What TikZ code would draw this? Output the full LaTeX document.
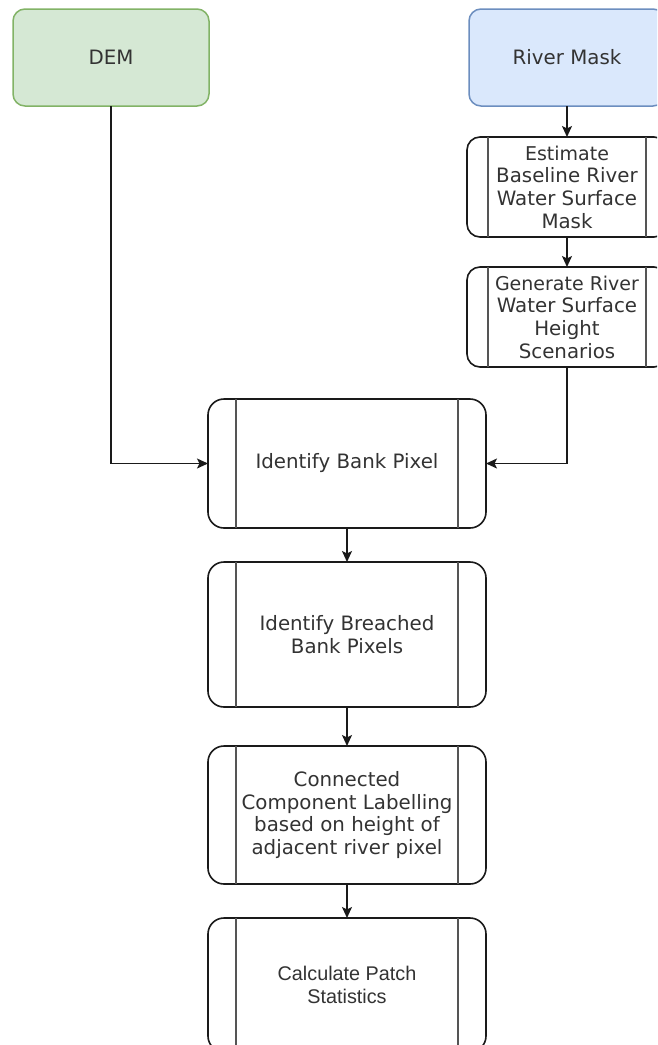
\documentclass[tikz,border=0pt]{standalone}
\usepackage{fontspec}
\setmainfont{DejaVu Sans}
\newfontfamily\arialf{Liberation Sans}
\usetikzlibrary{arrows.meta,calc}
\definecolor{demfill}{HTML}{D5E8D4}
\definecolor{demline}{HTML}{82B366}
\definecolor{rivfill}{HTML}{DAE8FC}
\definecolor{rivline}{HTML}{6C8EBF}
\definecolor{txt}{HTML}{333333}
\definecolor{outl}{HTML}{1A1A1A}
\definecolor{innl}{HTML}{555555}
\tikzset{
  txtfont/.style={font=\fontsize{19.8}{22.7}\selectfont, text=txt, align=center},
  inputbox/.style={txtfont, rounded corners=12pt, line width=1.5pt, minimum width=196pt, minimum height=97pt, inner sep=0pt, outer sep=0pt},
  procbox/.style={txtfont, draw=outl, fill=white, line width=1.6pt, inner sep=0pt, outer sep=0pt},
  bigproc/.style={procbox, rounded corners=16pt, minimum width=278pt},
  smallproc/.style={procbox, rounded corners=13pt, minimum width=200pt, minimum height=100pt},
  innerline/.style={draw=innl, line width=1.6pt},
  conn/.style={draw=outl, line width=1.6pt, -{Stealth[length=11pt,width=10pt,inset=2.5pt]}}
}
\begin{document}
\begin{tikzpicture}[x=1pt,y=-1pt]
\clip (0,0) rectangle (657,1045);
\fill[white] (0,0) rectangle (657,1045);
% input boxes
\node[inputbox, draw=demline, fill=demfill] (dem) at (111,57.5) {DEM};
\node[inputbox, draw=rivline, fill=rivfill] (river) at (567,57.5) {River Mask};
% right column processes
\node[smallproc] (est) at (567,187) {\fontsize{19}{22.5}\selectfont Estimate\\Baseline River\\Water Surface\\Mask};
\node[smallproc] (gen) at (567,317) {\fontsize{19}{22.5}\selectfont Generate River\\Water Surface\\Height\\Scenarios};
% main column
\node[bigproc, minimum height=129pt] (bank) at (347,463.5) {Identify Bank Pixel};
\node[bigproc, minimum height=145pt] (breach) at (347,634.5) {Identify Breached\\Bank Pixels};
\node[bigproc, minimum height=138pt] (ccl) at (347,815) {\raisebox{2pt}{\parbox{240pt}{\centering Connected\\Component Labelling\\based on height of\\adjacent river pixel}}};
\node[bigproc, minimum height=134pt] (calc) at (347,985) {\arialf Calculate Patch\\\arialf Statistics};
% inner lines
\foreach \n/\d in {est/21,gen/21,bank/28,breach/28,ccl/28,calc/28}{
  \draw[innerline] ([xshift=\d pt]\n.north west) -- ([xshift=\d pt]\n.south west);
  \draw[innerline] ([xshift=-\d pt]\n.north east) -- ([xshift=-\d pt]\n.south east);
}
% connectors
\coordinate (demturn) at (dem.south |- bank.west);
\coordinate (genturn) at (gen.south |- bank.east);
\draw[conn] (river.south) -- (est.north);
\draw[conn] (est.south) -- (gen.north);
\draw[conn] (dem.south) -- (demturn) -- (bank.west);
\draw[conn] (gen.south) -- (genturn) -- (bank.east);
\draw[conn] (bank.south) -- (breach.north);
\draw[conn] (breach.south) -- (ccl.north);
\draw[conn] (ccl.south) -- (calc.north);
\end{tikzpicture}
\end{document}
